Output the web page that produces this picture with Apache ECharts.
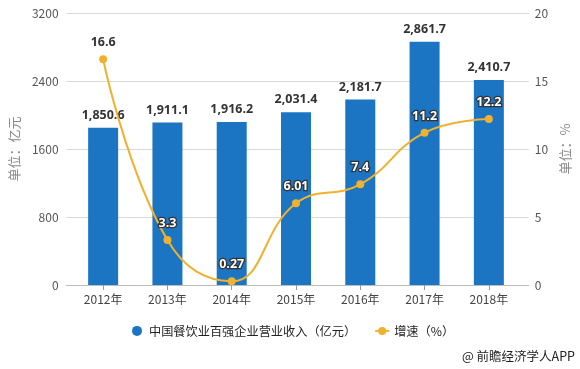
<!DOCTYPE html>
<html>
<head>
<meta charset="utf-8">
<script src="https://cdn.jsdelivr.net/npm/echarts@6/dist/echarts.min.js"></script>
<style>
html,body{margin:0;padding:0;background:#fff;}
#c{width:580px;height:369px;}
</style>
</head>
<body>
<div id="c"></div>
<script>
var categories = ['2012年','2013年','2014年','2015年','2016年','2017年','2018年'];
var revenue = [1850.6, 1911.1, 1916.2, 2031.4, 2181.7, 2861.7, 2410.7];
var growth = [16.6, 3.3, 0.27, 6.01, 7.4, 11.2, 12.2];
var revenueName = '中国餐饮业百强企业营业收入（亿元）';
var growthName = '增速（%）';

var font = '"Microsoft YaHei","Noto Sans CJK SC","Noto Sans",sans-serif';
var chart = echarts.init(document.getElementById('c'), null, {renderer:'canvas'});
function fmt(v){
  return v.toLocaleString('en-US',{minimumFractionDigits:1, maximumFractionDigits:1});
}
// label on white background (first point) drawn dark, others white with dark outline
var growthData = growth.map(function(v, i){
  if (i === 0) return {value:v, label:{color:'#333', textBorderColor:'#fff', textBorderWidth:1}};
  return v;
});
var option = {
  backgroundColor:'#fff',
  textStyle:{fontFamily:font},
  animation:false,
  grid:[
    {left:62, right:47, top:13, bottom:84},
    {left:71, right:59, top:13, bottom:84}
  ],
  legend:{
    bottom:27, left:127,
    itemGap:18, itemWidth:14, itemHeight:10,
    textStyle:{color:'#222', fontSize:12.2, fontFamily:font},
    data:[
      {name:revenueName, icon:'circle'},
      {name:growthName}
    ]
  },
  graphic:[{
    type:'text', right:5, bottom:6,
    style:{text:'@ 前瞻经济学人APP', fill:'#222', fontSize:12.5, fontFamily:font}
  }],
  xAxis:[
    {gridIndex:0, type:'value', min:0, max:1, show:true,
     axisLine:{show:true, onZero:false, lineStyle:{color:'#bbb'}},
     axisTick:{show:false}, axisLabel:{show:false}, splitLine:{show:false}},
    {gridIndex:1, type:'category', data:categories, boundaryGap:true,
     axisLine:{show:false},
     axisTick:{show:true, alignWithLabel:true, length:5, lineStyle:{color:'#999'}},
     axisLabel:{color:'#444', fontSize:12, margin:8, fontFamily:font}}
  ],
  yAxis:[
    {gridIndex:0, type:'value', min:0, max:3200, interval:800, position:'left',
     name:'单位：亿元', nameLocation:'middle', nameGap:44,
     nameTextStyle:{color:'#888', fontSize:13, fontFamily:font},
     axisLine:{show:false}, axisTick:{show:false},
     axisLabel:{color:'#555', fontSize:12, margin:8, formatter:function(v){return String(v);}},
     splitLine:{lineStyle:{color:'#d9d9d9'}}},
    {gridIndex:0, type:'value', min:0, max:20, interval:5, position:'right',
     name:'单位：%', nameLocation:'middle', nameGap:24,
     nameTextStyle:{color:'#888', fontSize:13, fontFamily:font},
     axisLine:{show:false}, axisTick:{show:false},
     axisLabel:{color:'#555', fontSize:12, margin:6},
     splitLine:{show:false}},
    {gridIndex:1, type:'value', min:0, max:3200, interval:800, show:false, splitLine:{show:false}},
    {gridIndex:1, type:'value', min:0, max:20, interval:5, show:false, splitLine:{show:false}}
  ],
  series:[
    {name:revenueName, type:'bar', xAxisIndex:1, yAxisIndex:2, data:revenue,
     barWidth:30, itemStyle:{color:'#1b75c3'},
     label:{show:true, position:'top', distance:6, color:'#333', fontWeight:'bold', fontSize:12.5,
       fontFamily:'"Open Sans","DejaVu Sans",sans-serif',
       formatter:function(p){return fmt(p.value);}}},
    {name:growthName, type:'line', xAxisIndex:1, yAxisIndex:3, data:growthData,
     smooth:0.45, symbol:'circle', symbolSize:8,
     itemStyle:{color:'#f0b12f'}, lineStyle:{color:'#f0b12f', width:2},
     label:{show:true, position:'top', distance:6, color:'#fff', fontWeight:'bold', fontSize:12.5,
       fontFamily:'"Open Sans","DejaVu Sans",sans-serif',
       textBorderColor:'#333', textBorderWidth:2.5}}
  ]
};
chart.setOption(option);
</script>
</body>
</html>
